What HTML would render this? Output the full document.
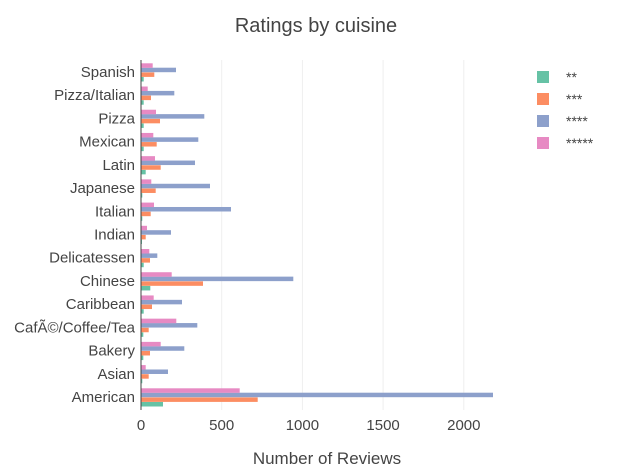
<!DOCTYPE html>
<html><head><meta charset="utf-8"><style>body{margin:0;background:#fff}svg{display:block;font-family:"Liberation Sans",sans-serif}</style></head><body>
<svg width="635" height="471" viewBox="0 0 635 471">
<text x="316" y="32" text-anchor="middle" font-size="20" fill="#444">Ratings by cuisine</text>
<g stroke="#eee" stroke-width="1">
<line x1="221.7" y1="60" x2="221.7" y2="410"/><line x1="302.4" y1="60" x2="302.4" y2="410"/><line x1="383.1" y1="60" x2="383.1" y2="410"/><line x1="463.8" y1="60" x2="463.8" y2="410"/>
</g>
<g id="bars"></g>
<line x1="141" y1="60" x2="141" y2="410" stroke="#444" stroke-width="1"/>
<g font-size="15" fill="#444" text-anchor="middle">
<text x="141" y="430">0</text><text x="221.7" y="430">500</text><text x="302.4" y="430">1000</text><text x="383.1" y="430">1500</text><text x="463.8" y="430">2000</text>
</g>
<text x="327" y="464" text-anchor="middle" font-size="17" fill="#444">Number of Reviews</text>
<g id="labels" font-size="15" fill="#444" text-anchor="end"></g>
<g font-size="14" fill="#444">
<rect x="537" y="71" width="12" height="12" fill="#66c2a5"/><text x="566" y="82">**</text>
<rect x="537" y="93" width="12" height="12" fill="#fc8d62"/><text x="566" y="104">***</text>
<rect x="537" y="115" width="12" height="12" fill="#8da0cb"/><text x="566" y="126">****</text>
<rect x="537" y="137" width="12" height="12" fill="#e78ac3"/><text x="566" y="148">*****</text>
</g>
<script>
var d=[["American",22,116.7,352,98.7],["Asian",1.3,7.7,27,4.7],["Bakery",2.3,9,43.3,19.7],["CafÃ©/Coffee/Tea",2.3,7.7,56.3,35.3],["Caribbean",2.7,11,41,12.7],["Chinese",9.3,62,152.3,30.7],["Delicatessen",2.7,9,16.3,8.3],["Indian",1,4.7,30,6],["Italian",1.3,9.7,90,13],["Japanese",1.3,14.7,69,10.3],["Latin",4.7,19.7,54,14],["Mexican",2.7,15.7,57.3,12.3],["Pizza",2.7,19,63.3,15],["Pizza/Italian",2.7,10,33.3,6.7],["Spanish",2.7,13.3,35,11.7]];
var cols=["#66c2a5","#fc8d62","#8da0cb","#e78ac3"],offs=[5,0.4,-4.3,-8.7];
var ns="http://www.w3.org/2000/svg",b=document.getElementById("bars"),l=document.getElementById("labels");
d.forEach(function(r,i){var c=397-i*(325/14);
for(var k=0;k<4;k++){var e=document.createElementNS(ns,"rect");e.setAttribute("x",141);e.setAttribute("y",c+offs[k]);e.setAttribute("width",r[k+1]);e.setAttribute("height",4.5);e.setAttribute("fill",cols[k]);b.appendChild(e);}
var t=document.createElementNS(ns,"text");t.setAttribute("x",135);t.setAttribute("y",c+5);t.textContent=r[0];l.appendChild(t);});
</script>
</svg>
</body></html>
